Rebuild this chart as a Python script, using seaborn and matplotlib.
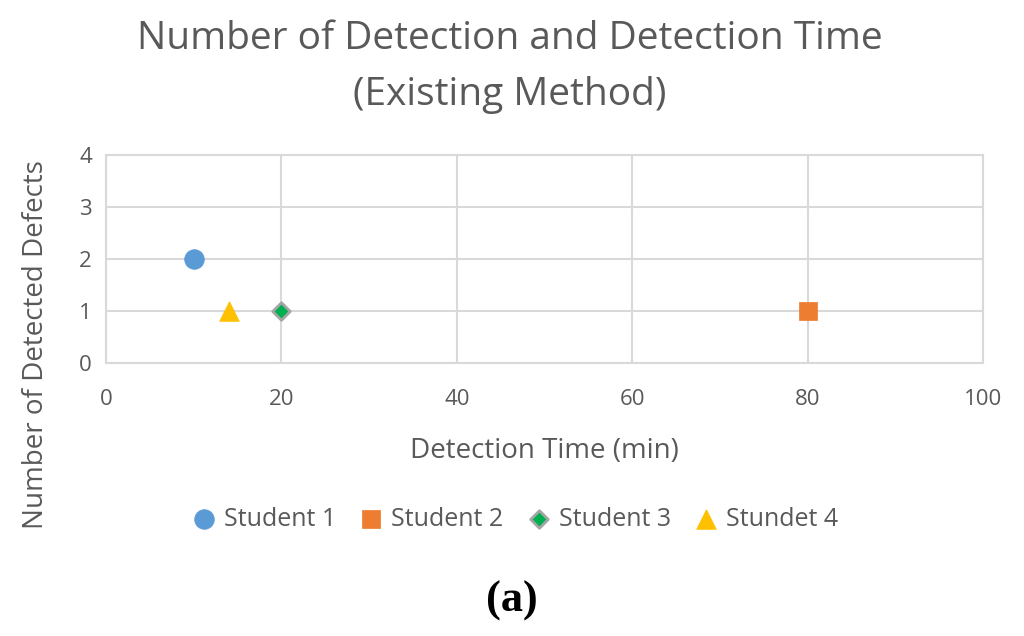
import matplotlib
matplotlib.use("Agg")
import matplotlib.pyplot as plt
import seaborn as sns
import pandas as pd

students = ["Student 1", "Student 2", "Student 3", "Stundet 4"]
detection_time = [10, 80, 20, 14]
detected_defects = [2, 1, 1, 1]
x_ticks = [0, 20, 40, 60, 80, 100]
y_ticks = [0, 1, 2, 3, 4]

colors = ["#5B9BD5", "#ED7D31", "#00B050", "#FFC000"]
markers = ["o", "s", "D", "^"]
sizes = [200, 180, 80, 200]
edges = ["#5B9BD5", "#ED7D31", "#A5A5A5", "#FFC000"]

sns.set_theme(style="white")
plt.rcParams['font.family'] = ['Open Sans', 'DejaVu Sans']
txt = "#595959"
grid = "#D9D9D9"

df = pd.DataFrame({"student": students, "time": detection_time, "defects": detected_defects})

fig = plt.figure(figsize=(10.24, 6.36), dpi=100)
ax = fig.add_axes([106/1024, 1-363/636, (983-106)/1024, (363-155)/636])

for i, s in enumerate(students):
    sub = df[df["student"] == s]
    sns.scatterplot(data=sub, x="time", y="defects", ax=ax, color=colors[i],
                    marker=markers[i], s=sizes[i], edgecolor=edges[i],
                    linewidth=2 if i == 2 else 0.5, label=s, zorder=3, clip_on=False)

ax.set_xlim(0, 100)
ax.set_ylim(0, 4)
ax.set_xticks(x_ticks)
ax.set_yticks(y_ticks)
ax.grid(True, color=grid, linewidth=1.5)
for sp in ax.spines.values():
    sp.set_color(grid)
    sp.set_linewidth(1.5)
ax.tick_params(axis="both", colors=txt, labelsize=16, length=0)
ax.tick_params(axis="x", pad=19)
ax.tick_params(axis="y", pad=10)
ax.set_xlabel("Detection Time (min)", color=txt, fontsize=20, labelpad=19)
ax.set_ylabel("")
fig.text(36/1024, 1-345/636, "Number of Detected Defects", rotation=90, color=txt,
         fontsize=20, ha="center", va="center")

fig.text(510/1024, 1-67/636, "Number of Detection and Detection Time\n(Existing Method)",
         ha="center", va="center", fontsize=28, color=txt, linespacing=1.65)

leg = ax.legend(loc="center", bbox_to_anchor=((511-106)/877, (363-519)/(363-155)), ncol=4,
                frameon=False, fontsize=18, handletextpad=0.0, columnspacing=0.6,
                handlelength=1.6, markerscale=1.0)
for t in leg.get_texts():
    t.set_color(txt)

fig.text(512/1024, 1-601/636, "(a)", ha="center", va="center", fontsize=32,
         fontweight="bold", family="Liberation Serif", color="black")

fig.savefig("out.png", dpi=100)
